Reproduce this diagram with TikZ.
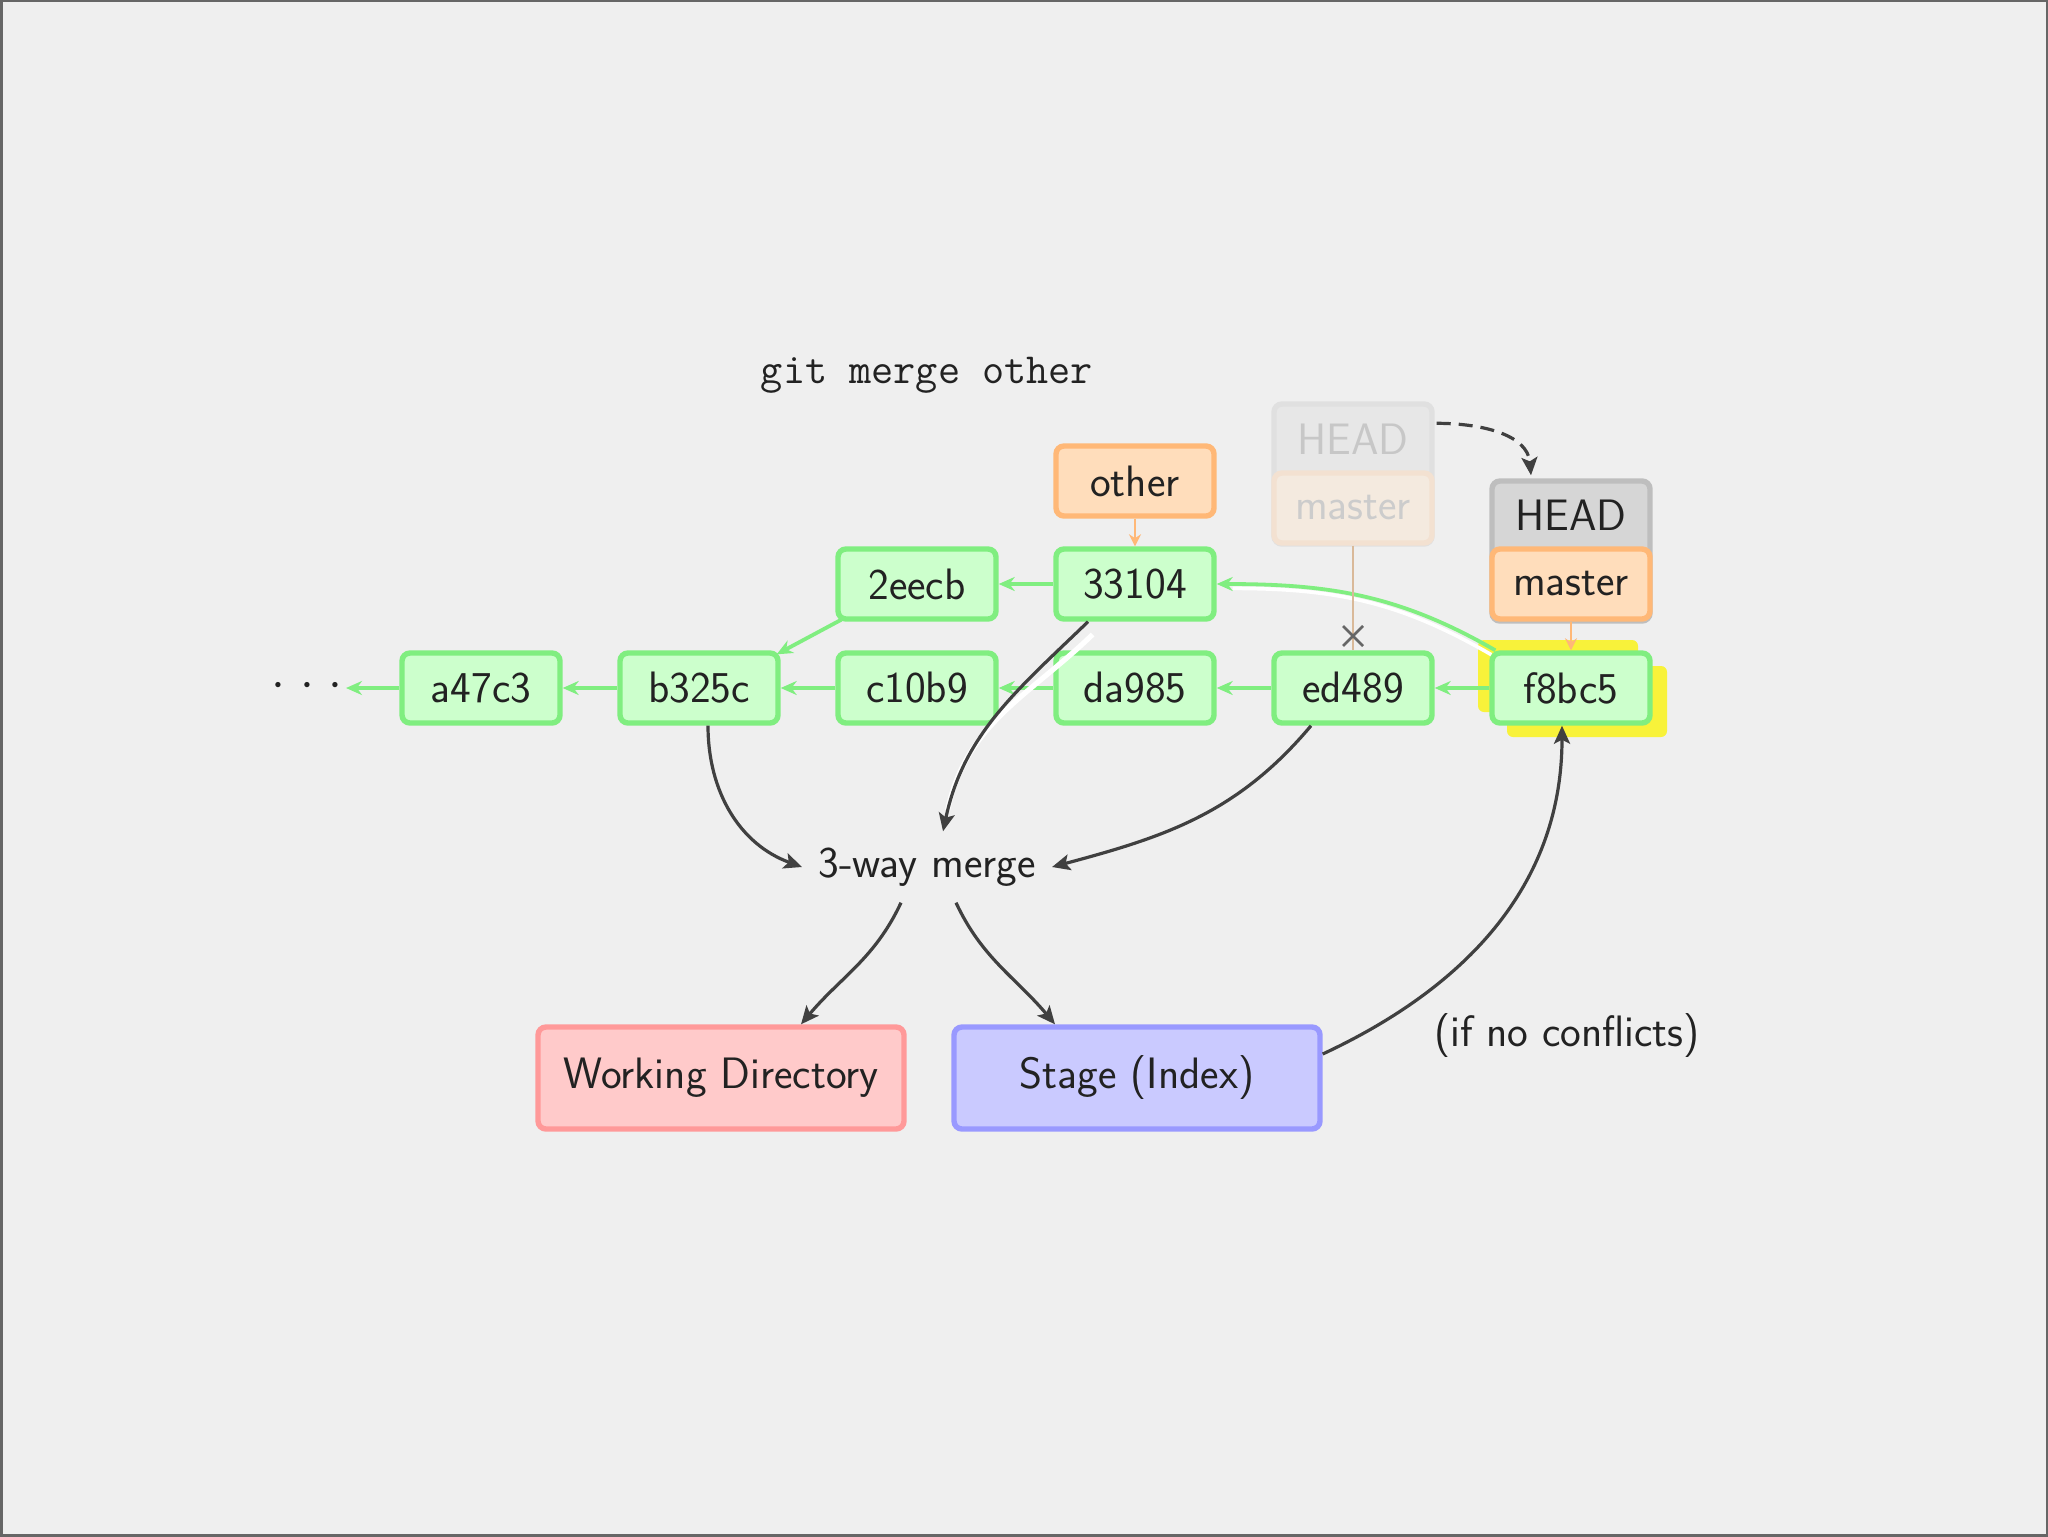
\documentclass[tikz,border=0pt]{standalone}
\usepackage{fontspec}
\usetikzlibrary{arrows.meta,calc}
\definecolor{paper}{HTML}{EFEFEF}
\definecolor{gfill}{HTML}{CCFFCC}
\definecolor{gline}{HTML}{80EE80}
\definecolor{ofill}{HTML}{FFDDBB}
\definecolor{oline}{HTML}{FFB877}
\definecolor{hfill}{HTML}{D6D6D6}
\definecolor{hline}{HTML}{BEBEBE}
\definecolor{rfill}{HTML}{FFCACA}
\definecolor{rline}{HTML}{FF9999}
\definecolor{bfill}{HTML}{CACAFF}
\definecolor{bline}{HTML}{9999FF}
\definecolor{dark}{HTML}{404040}
\definecolor{txt}{HTML}{222222}
\definecolor{hlyellow}{HTML}{F8F23A}
\definecolor{tan}{HTML}{D9B999}
\newcommand{\bodyfont}{\sffamily\fontsize{22}{26}\selectfont}
\tikzset{
  box/.style={line width=2.7pt, rounded corners=4pt, inner sep=0pt,
    minimum width=79pt, minimum height=35pt, text=txt, font=\bodyfont},
  commit/.style={box, draw=gline, fill=gfill},
  branch/.style={box, draw=oline, fill=ofill},
  oldbranch/.style={box, draw=oline!25!paper, fill=ofill!30!paper, text=black!20},
  headbox/.style={box, draw=hline, fill=hfill, minimum height=70pt},
  oldheadbox/.style={box, draw=hline!30!paper, fill=hfill!30!paper, minimum height=70pt},
  area/.style={line width=2.7pt, rounded corners=4pt, inner sep=0pt,
    minimum width=183pt, minimum height=51pt, text=txt, font=\bodyfont},
  plain/.style={text=txt, font=\bodyfont},
  garrow/.style={draw=gline, line width=1.9pt, -{Stealth[length=8pt,width=7pt]}},
  oarrow/.style={draw=oline, line width=1.4pt, -{Stealth[length=6pt,width=6pt]}},
  darrow/.style={draw=dark, line width=1.6pt, -{Stealth[length=9pt,width=8pt,inset=2pt]}},
}
\begin{document}
\begin{tikzpicture}[x=0.5pt, y=-0.5pt]
\useasboundingbox (0,0) rectangle (2048,1536);
\fill[paper] (0,0) rectangle (2048,1536);
\draw[black!60, line width=1.5pt] (1,1) rectangle (2047,1535);

% title
\node[text=txt, font=\ttfamily\fontsize{21.5}{25}\selectfont] (title) at (927,375) {git merge other};

% yellow highlight behind f8bc5
\fill[hlyellow, rounded corners=3pt] (1478,640) rectangle (1638,712);
\fill[hlyellow, rounded corners=3pt] (1507,666) rectangle (1667,737);

% commits
\node[commit] (a47c3) at (481,688) {a47c3};
\node[commit] (b325c) at (699,688) {b325c};
\node[commit] (c10b9) at (917,688) {c10b9};
\node[commit] (da985) at (1135,688) {da985};
\node[commit] (ed489) at (1353,688) {ed489};
\node[commit] (f8bc5) at (1571,688) {f8bc5};
\node[commit] (c2eecb) at (917,584) {2eecb};
\node[commit] (c33104) at (1135,584) {33104};
\node[text=txt, inner sep=6pt, font=\fontsize{36}{36}\selectfont] (dots) at (307,686) {$\cdot\hspace{2pt}\cdot\hspace{2pt}\cdot$};

% branches
\node[branch] (other) at (1135,481) {other};
\node[oldheadbox] (oldhead) at (1353,474) {};
\node[text=black!22, font=\bodyfont] (oldheadtxt) at (1353,439) {HEAD};
\node[oldbranch] (oldmaster) at (1353,508) {master};
\node[headbox] (head) at (1571,551) {};
\node[text=txt, font=\bodyfont] (headtxt) at (1571,515) {HEAD};
\node[branch] (master) at (1571,584) {master};

% 3-way merge and areas
\node[plain, inner xsep=8pt, inner ysep=8pt] (merge) at (927,867) {3-way merge};
\node[area, draw=rline, fill=rfill] (wd) at (721,1078) {Working Directory};
\node[area, draw=bline, fill=bfill] (stage) at (1137,1078) {Stage (Index)};
\node[plain] (cond) at (1567,1036) {(if no conflicts)};

% commit parent arrows
\coordinate (dotsend) at (346,688);
\draw[garrow] (a47c3.west) -- (dotsend);
\draw[garrow] (b325c.west) -- (a47c3.east);
\draw[garrow] (c10b9.west) -- (b325c.east);
\draw[garrow] (da985.west) -- (c10b9.east);
\draw[garrow] (ed489.west) -- (da985.east);
\draw[garrow] (f8bc5.west) -- (ed489.east);
\draw[garrow] (c33104.west) -- (c2eecb.east);
\draw[garrow] ($(c2eecb.south west)+(6,-2)$) -- ($(b325c.north east)+(-4,4)$);

% merge parent (f8bc5 -> 33104), green with white edge
\draw[white, line width=1.8pt, transform canvas={yshift=-2.2pt}]
  ($(f8bc5.north west)+(2,0)$) to[out=150, in=0] ($(c33104.east)+(16,0)$);
\draw[garrow] ($(f8bc5.north west)+(6,0)$) to[out=150, in=0] (c33104.east);

% branch pointers
\draw[oarrow] (other.south) -- (c33104.north);
\draw[oarrow] (master.south) -- (f8bc5.north);
\draw[tan, line width=1.4pt] (oldmaster.south) -- (ed489.north);
\coordinate (xmark) at (1353,636);
\draw[dark!80, line width=1.3pt] ($(xmark)+(-10,-10)$) -- ($(xmark)+(10,10)$)
  ($(xmark)+(-10,10)$) -- ($(xmark)+(10,-10)$);
\draw[dark, line width=1.6pt, dash pattern=on 7pt off 4pt, -{Stealth[length=9pt,width=8pt,inset=2pt]}]
  ($(oldhead.north east)+(2,22)$) to[out=0, in=95] ($(head.north)+(-40,-3)$);

% inputs to 3-way merge
\draw[darrow] ($(b325c.south)+(9,0)$) to[out=-90, in=160] (merge.west);
\draw[white, line width=2.6pt, transform canvas={xshift=2.3pt, yshift=-0.4pt}]
  ($(c33104.south)+(-47,12)$) to[out=-136, in=78] ($(merge.north)+(16,-22)$);
\draw[darrow] ($(c33104.south)+(-47,0)$) to[out=-136, in=78] ($(merge.north)+(16,0)$);
\draw[darrow] ($(ed489.south)+(-42,0)$) to[out=-130, in=15] (merge.east);

% outputs
\draw[darrow] ($(merge.south)+(-26,0)$) to[out=-115, in=50] ($(wd.north)+(80,0)$);
\draw[darrow] ($(merge.south)+(29,0)$) to[out=-65, in=130] ($(stage.north)+(-82,0)$);
\draw[darrow] ($(stage.east)+(0,-24)$) to[out=25, in=-90] ($(f8bc5.south)+(-9,0)$);
\end{tikzpicture}
\end{document}
